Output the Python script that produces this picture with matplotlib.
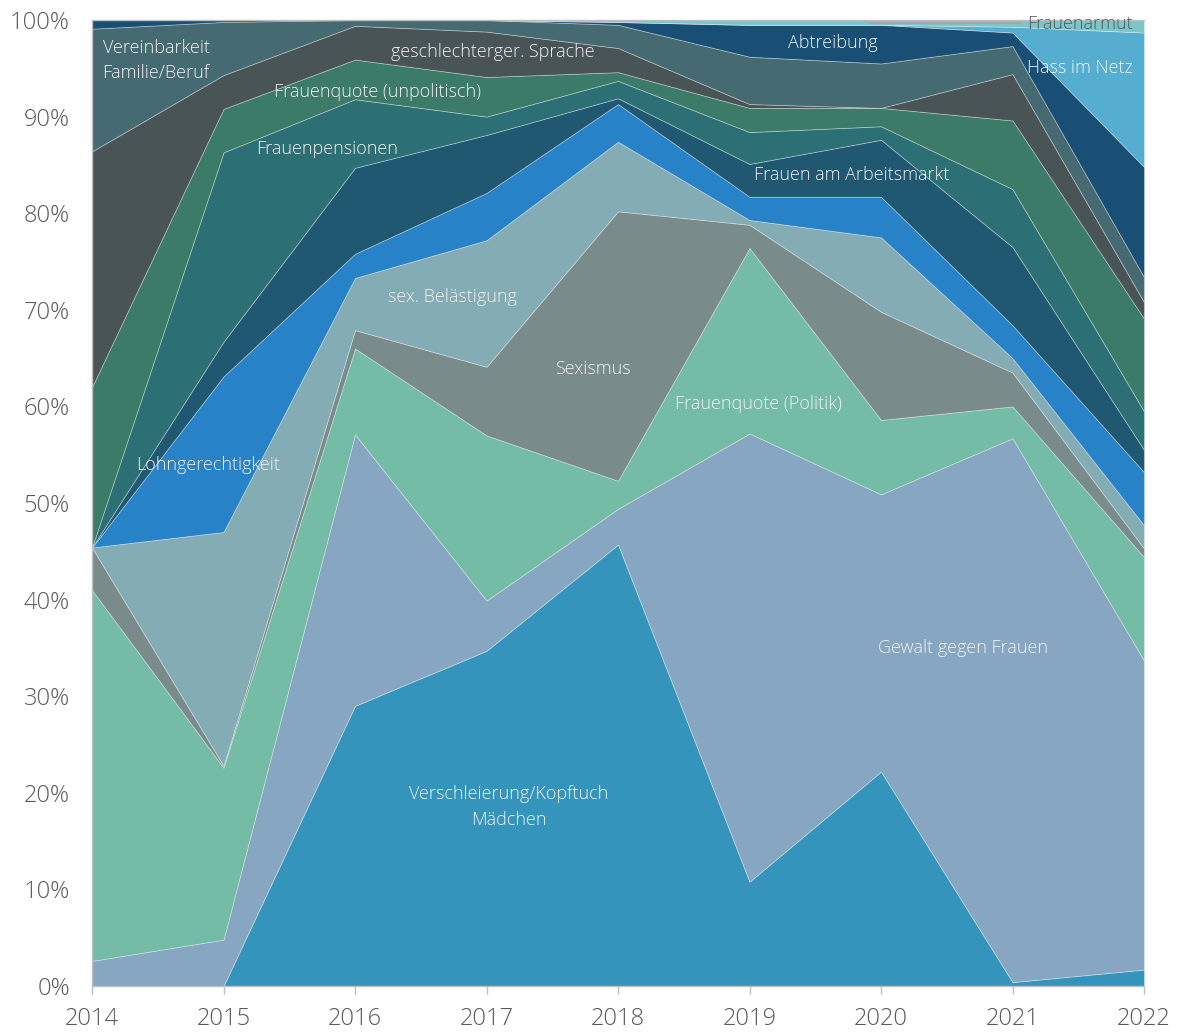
import numpy as np
import matplotlib
matplotlib.use("Agg")
import matplotlib.pyplot as plt
from matplotlib.ticker import FuncFormatter

plt.rcParams['font.family'] = ['Open Sans', 'DejaVu Sans']

years = [2014, 2015, 2016, 2017, 2018, 2019, 2020, 2021, 2022]

# shares in percent, bottom -> top
verschleierung = [0.0, 0.0, 29.0, 34.7, 45.7, 10.8, 22.2, 0.4, 1.7]
gewalt = [2.6, 4.8, 28.1, 5.2, 3.7, 46.4, 28.7, 56.3, 32.0]
fq_politik = [38.4, 17.8, 8.9, 17.1, 2.9, 19.2, 7.7, 3.3, 10.7]
sexismus = [4.4, 0.2, 1.9, 7.1, 27.9, 2.4, 11.2, 3.5, 0.9]
sex_belaestigung = [0.0, 24.2, 5.4, 13.1, 7.2, 0.5, 7.7, 1.5, 2.4]
lohn = [0.0, 16.1, 2.5, 4.9, 3.9, 2.4, 4.2, 3.4, 5.5]
arbeitsmarkt = [0.0, 3.6, 8.9, 6.0, 0.6, 3.4, 5.9, 8.1, 2.3]
pensionen = [0.0, 19.6, 7.1, 1.9, 1.8, 3.3, 1.4, 6.0, 4.0]
fq_unpolitisch = [16.6, 4.5, 4.1, 4.1, 0.9, 2.5, 1.9, 7.1, 9.6]
sprache = [24.4, 3.5, 3.5, 4.7, 2.5, 0.4, 0.0, 4.8, 1.7]
vereinbarkeit = [12.7, 5.5, 0.6, 1.2, 2.4, 4.9, 4.6, 2.9, 2.6]
abtreibung = [0.9, 0.2, 0.0, 0.0, 0.3, 3.3, 4.0, 1.4, 11.4]
hass = [0.0, 0.0, 0.0, 0.0, 0.0, 0.0, 0.0, 0.6, 13.9]
frauenarmut = [0.0, 0.0, 0.0, 0.0, 0.2, 0.5, 0.5, 0.7, 1.3]

series = [verschleierung, gewalt, fq_politik, sexismus, sex_belaestigung, lohn,
          arbeitsmarkt, pensionen, fq_unpolitisch, sprache, vereinbarkeit,
          abtreibung, hass, frauenarmut]
colors = ['#3594BC', '#87A6C1', '#74BCA6', '#7A8B8C', '#84ACB5', '#2882C8',
          '#1F5870', '#2C7076', '#3B7B67', '#495457', '#466A72', '#1A4F75',
          '#55ADD0', '#7CC5C9']

data = np.array(series, dtype=float)
data = data / data.sum(axis=0) * 100.0

fig = plt.figure(figsize=(11.78, 10.32), dpi=100)
ax = fig.add_axes([92/1178, 46/1032, (1144-92)/1178, (986-20)/1032])
ax.stackplot(years, data, colors=colors, edgecolor=(1, 1, 1, 0.35), linewidth=0.6)

ax.set_xlim(2014, 2022)
ax.set_ylim(0, 100)
ax.set_xticks(years)
ax.set_yticks(range(0, 101, 10))
ax.yaxis.set_major_formatter(FuncFormatter(lambda v, p: f"{int(v)}%"))
ax.tick_params(axis='y', length=0, labelsize=17, colors='#595959', pad=16)
ax.tick_params(axis='x', length=6, width=1, color='#BFBFBF', labelsize=17,
               colors='#595959', pad=9, direction='out')
for lbl in ax.get_xticklabels() + ax.get_yticklabels():
    lbl.set_color('#595959')
    lbl.set_fontweight('light')
for s in ['left', 'top', 'right', 'bottom']:
    ax.spines[s].set_color('#BFBFBF')
    ax.spines[s].set_linewidth(1)
ax.spines['right'].set_visible(False)

lab = dict(color='#F2F2F2', fontsize=13, ha='center', va='center', fontweight='light')
ax.text(2014.08, 95.8, 'Vereinbarkeit\nFamilie/Beruf', color='#F2F2F2',
        fontsize=13, ha='left', va='center', linespacing=1.55, fontweight='light')
ax.text(2017.05, 96.7, 'geschlechterger. Sprache', **lab)
ax.text(2016.17, 92.5, 'Frauenquote (unpolitisch)', **lab)
ax.text(2015.79, 86.6, 'Frauenpensionen', **lab)
ax.text(2019.63, 97.6, 'Abtreibung', **lab)
ax.text(2021.51, 99.55, 'Frauenarmut', color='#595959', fontsize=13,
        ha='center', va='center', fontweight='light')
ax.plot([2019.92, 2021.06], [99.7, 99.7], color='#A6A6A6', linewidth=1.5)
ax.text(2021.51, 95.0, 'Hass im Netz', **lab)
ax.text(2019.78, 84.0, 'Frauen am Arbeitsmarkt', **lab)
ax.text(2016.74, 71.3, 'sex. Belästigung', **lab)
ax.text(2017.81, 63.9, 'Sexismus', **lab)
ax.text(2019.07, 60.2, 'Frauenquote (Politik)', **lab)
ax.text(2014.88, 53.9, 'Lohngerechtigkeit', **lab)
ax.text(2020.62, 35.0, 'Gewalt gegen Frauen', **lab)
ax.text(2017.17, 18.5, 'Verschleierung/Kopftuch\nMädchen', linespacing=1.6, **lab)

fig.savefig('out.png', dpi=100)
